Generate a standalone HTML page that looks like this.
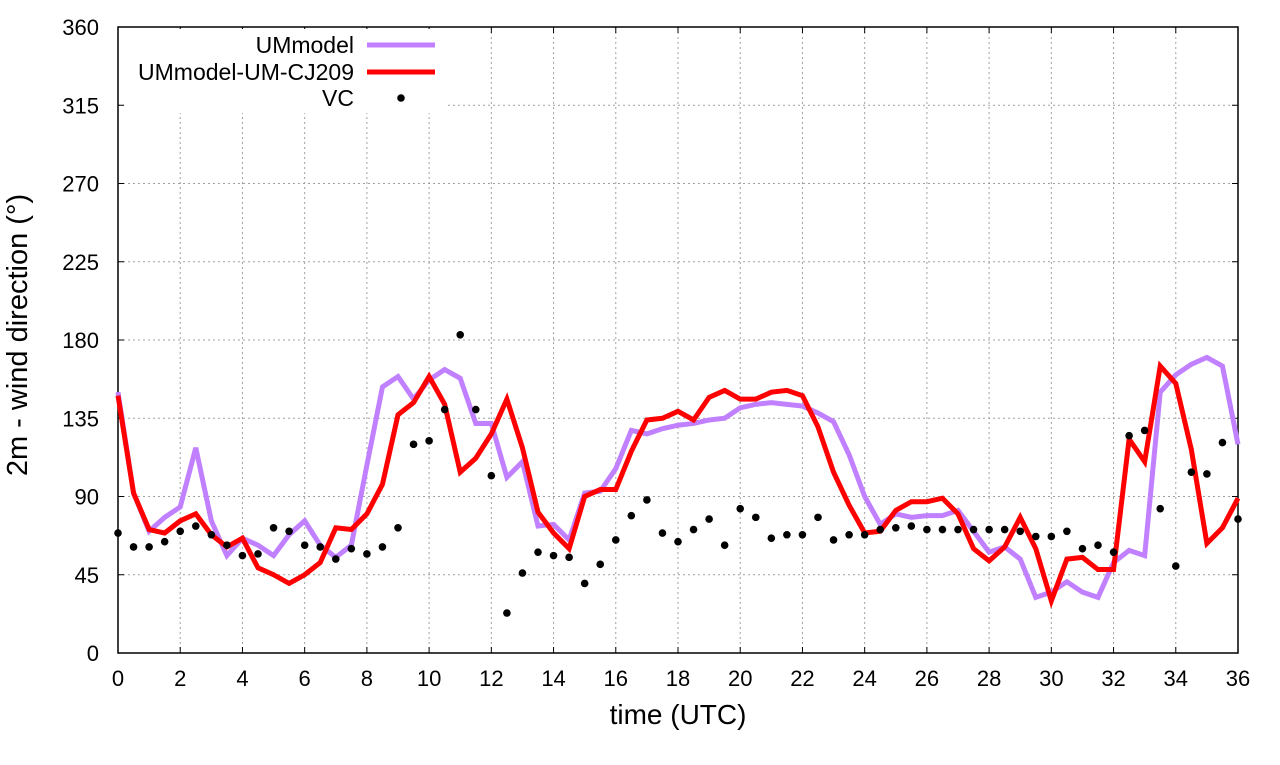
<!DOCTYPE html>
<html><head><meta charset="utf-8"><style>
body{margin:0;background:#fff}
svg text{font-family:"Liberation Sans",sans-serif;fill:#000}
</style></head><body>
<svg id="chart" width="1280" height="760" viewBox="0 0 1280 760" xmlns="http://www.w3.org/2000/svg">
<g id="grid"></g>
<g id="axes"></g>
<g id="series"></g>
<g id="legend"></g>
</svg>
<script>
const xTicks=[0,2,4,6,8,10,12,14,16,18,20,22,24,26,28,30,32,34,36];
const yTicks=[0,45,90,135,180,225,270,315,360];
const umTimes=[];for(let i=0;i<=72;i++)umTimes.push(i/2);
const umModel=[150,92,70,78,84,118,76,56,66,62,56,68,76,62,55,62,108,153,159,146,157,163,158,132,132,101,110,73,74,65,92,93,106,128,126,129,131,132,134,135,141,143,144,143,142,138,133,114,90,74,80,78,79,79,82,70,58,61,54,32,35,41,35,32,52,59,56,150,160,166,170,165,120];
const umCJ209=[148,92,71,69,76,80,68,61,66,49,45,40,45,52,72,71,80,97,137,144,159,143,104,112,126,146,118,81,69,60,90,94,94,116,134,135,139,134,147,151,146,146,150,151,148,130,104,85,69,70,82,87,87,89,80,60,53,61,78,60,30,54,55,48,48,123,110,165,155,117,63,72,89];
const vcTimes=[0,0.5,1,1.5,2,2.5,3,3.5,4,4.5,5,5.5,6,6.5,7,7.5,8,8.5,9,9.1,9.5,10,10.5,11,11.5,12,12.5,13,13.5,14,14.5,15,15.5,16,16.5,17,17.5,18,18.5,19,19.5,20,20.5,21,21.5,22,22.5,23,23.5,24,24.5,25,25.5,26,26.5,27,27.5,28,28.5,29,29.5,30,30.5,31,31.5,32,32.5,33,33.5,34,34.5,35,35.5,36];
const vcValues=[69,61,61,64,70,73,68,62,56,57,72,70,62,61,54,60,57,61,72,319,120,122,140,183,140,102,23,46,58,56,55,40,51,65,79,88,69,64,71,77,62,83,78,66,68,68,78,65,68,68,71,72,73,71,71,71,71,71,71,70,67,67,70,60,62,58,125,128,83,50,104,103,121,77];

const L=118,R=1238,T=27,B=653,NS="http://www.w3.org/2000/svg";
const xs=t=>L+(t-0)/36*(R-L);
const ys=v=>B-v/360*(B-T);
function mk(tag,attrs,parent){const e=document.createElementNS(NS,tag);for(const k in attrs)e.setAttribute(k,attrs[k]);parent.appendChild(e);return e;}
const grid=document.getElementById('grid'),axes=document.getElementById('axes'),series=document.getElementById('series'),legend=document.getElementById('legend');
xTicks.forEach(t=>{
 const x=xs(t);
 if(t>0&&t<36){const g=mk('line',{x1:x,x2:x,y1:T,y2:B,stroke:'#a0a0a0','stroke-width':1,'stroke-dasharray':'2,3'},grid);
 
 }
 mk('line',{x1:x,x2:x,y1:B,y2:B-6,stroke:'#000'},axes);
 mk('line',{x1:x,x2:x,y1:T,y2:T+6,stroke:'#000'},axes);
 const tx=mk('text',{x:x,y:686,'text-anchor':'middle','font-size':22},axes);tx.textContent=t;
 
 
});
yTicks.forEach(v=>{
 const y=ys(v);
 if(v>0&&v<360){const g=mk('line',{x1:L,x2:R,y1:y,y2:y,stroke:'#a0a0a0','stroke-width':1,'stroke-dasharray':'2,3'},grid);
 
 }
 mk('line',{x1:L,x2:L+6,y1:y,y2:y,stroke:'#000'},axes);
 mk('line',{x1:R,x2:R-6,y1:y,y2:y,stroke:'#000'},axes);
 const tx=mk('text',{x:99,y:y+8,'text-anchor':'end','font-size':22},axes);tx.textContent=v;
 
 
});
const border=mk('rect',{x:L,y:T,width:R-L,height:B-T,fill:'none',stroke:'#000','stroke-width':1.5},axes);


const xt=mk('text',{x:(L+R)/2,y:724,'text-anchor':'middle','font-size':28},axes);xt.textContent='time (UTC)';


const yt=mk('text',{x:0,y:0,'text-anchor':'middle','font-size':29,transform:'translate(27,335) rotate(-90)'},axes);yt.textContent='2m - wind direction (°)';



const lb=mk('rect',{x:124,y:29,width:323,height:84,fill:'#fff'},legend);



function line(vals,color,name){
 const p=mk('polyline',{points:vals.map((v,i)=>xs(umTimes[i])+','+ys(v)).join(' '),fill:'none',stroke:color,'stroke-width':5,'stroke-linejoin':'miter'},series);
 
 
}
line(umModel,'#c080ff','ummodel-line');
line(umCJ209,'#ff0000','ummodel-um-cj209-line');
vcValues.forEach((v,i)=>{
 const c=mk('circle',{cx:xs(vcTimes[i]),cy:ys(v),r:3.8,fill:'#000'},series);
 
 
});
const items=[['UMmodel','#c080ff',45],['UMmodel-UM-CJ209','#ff0000',72]];
items.forEach(([txt,col,y])=>{
 const t=mk('text',{x:354,y:y+8,'text-anchor':'end','font-size':23},legend);t.textContent=txt;
 
 
 const l=mk('line',{x1:367,x2:435,y1:y,y2:y,stroke:col,'stroke-width':5},legend);
 
 
});
const vt=mk('text',{x:354,y:106,'text-anchor':'end','font-size':23},legend);vt.textContent='VC';


const vd=mk('circle',{cx:401,cy:98,r:3.8,fill:'#000'},legend);


</script>
</body></html>
